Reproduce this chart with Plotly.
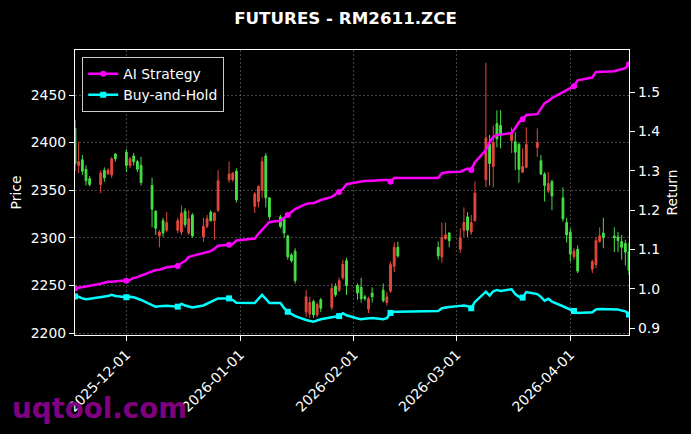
import pandas as pd
import plotly.graph_objects as go

# ---- data ----
start_date = "2025-11-17"
end_date = "2026-04-17"
holidays = ["2026-01-01", "2026-01-02", "2026-02-16", "2026-02-17", "2026-02-18",
            "2026-02-19", "2026-02-20", "2026-02-23", "2026-04-06"]
dates = [d for d in pd.bdate_range(start_date, end_date) if d.strftime("%Y-%m-%d") not in holidays]

open_ = [2415, 2376, 2382, 2372, 2362, 2356, 2371, 2367, 2366, 2388,
         2390, 2376, 2386, 2380, 2376, 2355, 2328, 2302, 2318, 2308,
         2308, 2306, 2328, 2305, 2324, 2301, 2312, 2327, 2318, 2329,
         2361, 2361, 2370, 2333, 2338, 2350, 2386, 2342, 2322, 2320,
         2302, 2282, 2286, 2222, 2220, 2233, 2219, 2235, 2227, 2249,
         2245, 2258, 2276, 2250, 2248, 2238, 2225, 2242, 2245, 2232,
         2244, 2270, 2290, 2290, 2280, 2299, 2305, 2288, 2308, 2322,
         2306, 2318, 2361, 2398, 2375, 2420, 2418, 2402, 2401, 2398,
         2369, 2374, 2395, 2381, 2367, 2349, 2359, 2342, 2316, 2306,
         2280, 2288, 2267, 2272, 2296, 2305, 2302, 2301, 2296, 2294, 2285]
high = [2424, 2401, 2387, 2376, 2365, 2371, 2374, 2373, 2385, 2389,
        2393, 2385, 2389, 2382, 2385, 2363, 2329, 2308, 2321, 2327,
        2321, 2334, 2331, 2329, 2326, 2321, 2324, 2329, 2327, 2371,
        2380, 2369, 2373, 2348, 2355, 2385, 2389, 2342, 2324, 2322,
        2303, 2284, 2289, 2245, 2238, 2235, 2232, 2237, 2252, 2252,
        2258, 2277, 2279, 2252, 2258, 2240, 2238, 2248, 2252, 2243,
        2275, 2295, 2296, 2296, 2316, 2316, 2306, 2310, 2332, 2327,
        2324, 2359, 2484, 2408, 2418, 2434, 2434, 2416, 2411, 2400,
        2394, 2416, 2415, 2387, 2369, 2369, 2361, 2353, 2321, 2310,
        2289, 2292, 2277, 2301, 2311, 2321, 2311, 2306, 2303, 2298, 2295]
low = [2370, 2368, 2366, 2355, 2354, 2347, 2359, 2366, 2363, 2380,
       2369, 2373, 2376, 2369, 2355, 2311, 2303, 2290, 2301, 2306,
       2305, 2303, 2311, 2303, 2300, 2296, 2310, 2317, 2298, 2327,
       2358, 2359, 2337, 2326, 2332, 2342, 2332, 2319, 2310, 2300,
       2277, 2274, 2252, 2217, 2216, 2216, 2217, 2222, 2224, 2238,
       2243, 2256, 2240, 2235, 2232, 2234, 2221, 2232, 2232, 2229,
       2242, 2264, 2279, 2277, 2274, 2298, 2290, 2284, 2301, 2301,
       2303, 2317, 2353, 2355, 2353, 2395, 2394, 2389, 2371, 2358,
       2368, 2373, 2385, 2366, 2338, 2347, 2329, 2317, 2295, 2275,
       2277, 2263, 2263, 2268, 2295, 2289, 2285, 2285, 2277, 2271, 2261]
close = [2378, 2380, 2370, 2360, 2356, 2368, 2363, 2371, 2383, 2383,
         2376, 2383, 2380, 2372, 2358, 2330, 2310, 2306, 2305, 2316,
         2318, 2326, 2314, 2320, 2302, 2312, 2320, 2318, 2326, 2360,
         2367, 2368, 2340, 2346, 2354, 2380, 2342, 2322, 2312, 2305,
         2280, 2276, 2255, 2238, 2232, 2219, 2230, 2226, 2247, 2240,
         2255, 2272, 2250, 2242, 2236, 2236, 2236, 2238, 2234, 2238,
         2272, 2290, 2281, 2281, 2300, 2303, 2297, 2300, 2316, 2308,
         2316, 2347, 2405, 2378, 2400, 2404, 2407, 2410, 2390, 2372,
         2375, 2398, 2400, 2367, 2355, 2357, 2344, 2320, 2303, 2283,
         2286, 2265, 2275, 2297, 2302, 2300, 2300, 2297, 2290, 2285, 2266]

ai_strategy = [1.001, 1.003, 1.005, 1.006, 1.008, 1.013, 1.015, 1.018, 1.018, 1.019,
               1.021, 1.023, 1.028, 1.030, 1.034, 1.046, 1.048, 1.049, 1.053, 1.055,
               1.058, 1.066, 1.071, 1.081, 1.084, 1.091, 1.094, 1.096, 1.102, 1.110,
               1.112, 1.114, 1.123, 1.128, 1.140, 1.150, 1.160, 1.170, 1.173, 1.180,
               1.188, 1.195, 1.203, 1.216, 1.218, 1.218, 1.222, 1.226, 1.234, 1.240,
               1.246, 1.254, 1.266, 1.272, 1.273, 1.274, 1.274, 1.275, 1.277, 1.277,
               1.272, 1.282, 1.282, 1.282, 1.294, 1.296, 1.297, 1.298, 1.302, 1.306,
               1.302, 1.322, 1.353, 1.373, 1.386, 1.391, 1.392, 1.396, 1.409, 1.424,
               1.431, 1.442, 1.444, 1.459, 1.472, 1.477, 1.485, 1.500, 1.505, 1.510,
               1.515, 1.530, 1.537, 1.551, 1.552, 1.552, 1.553, 1.556, 1.558, 1.561, 1.571]
buy_hold = [0.981, 0.980, 0.976, 0.974, 0.975, 0.979, 0.981, 0.982, 0.985, 0.982,
            0.979, 0.980, 0.979, 0.976, 0.972, 0.959, 0.955, 0.956, 0.957, 0.957,
            0.955, 0.962, 0.958, 0.956, 0.953, 0.958, 0.962, 0.967, 0.972, 0.976,
            0.976, 0.972, 0.965, 0.964, 0.975, 0.985, 0.975, 0.964, 0.964, 0.951,
            0.942, 0.937, 0.931, 0.921, 0.919, 0.917, 0.920, 0.923, 0.928, 0.929,
            0.931, 0.938, 0.933, 0.925, 0.923, 0.924, 0.925, 0.926, 0.923, 0.926,
            0.939, 0.942, 0.942, 0.944, 0.951, 0.953, 0.954, 0.957, 0.958, 0.956,
            0.951, 0.967, 0.993, 0.983, 0.994, 0.997, 0.995, 0.999, 0.987, 0.980,
            0.978, 0.992, 0.987, 0.980, 0.970, 0.975, 0.968, 0.956, 0.952, 0.948,
            0.944, 0.939, 0.941, 0.948, 0.949, 0.949, 0.949, 0.948, 0.945, 0.943, 0.935]

month_ticks = ["2025-12-01", "2026-01-01", "2026-02-01", "2026-03-01", "2026-04-01"]
price_ticks = [2200, 2250, 2300, 2350, 2400, 2450]
return_ticks = [0.9, 1.0, 1.1, 1.2, 1.3, 1.4, 1.5]
mark_every = 10

FONT = "DejaVu Sans"
RED = "#e5483c"
GREEN = "#46e046"
MAGENTA = "#ff00ff"
CYAN = "#00ffff"

fig = go.Figure()
fig.add_trace(go.Candlestick(
    x=dates, open=open_, high=high, low=low, close=close,
    increasing=dict(line=dict(color=RED, width=1), fillcolor=RED),
    decreasing=dict(line=dict(color=GREEN, width=1), fillcolor=GREEN),
    whiskerwidth=0, showlegend=False, yaxis="y", hoverinfo="skip"))

for name, vals, color, sym in [("AI Strategy", ai_strategy, MAGENTA, "circle"),
                               ("Buy-and-Hold", buy_hold, CYAN, "square")]:
    fig.add_trace(go.Scatter(x=dates, y=vals, mode="lines", yaxis="y2",
                             line=dict(color=color, width=2.5), showlegend=False,
                             legendgroup=name))
    fig.add_trace(go.Scatter(x=dates[::mark_every], y=vals[::mark_every], mode="markers",
                             yaxis="y2", marker=dict(color=color, size=6, symbol=sym),
                             showlegend=False, legendgroup=name))
    fig.add_trace(go.Scatter(x=[None], y=[None], mode="lines+markers", yaxis="y2", name=name,
                             line=dict(color=color, width=2.5),
                             marker=dict(color=color, size=6, symbol=sym), legendgroup=name))

grid = dict(showgrid=True, gridcolor="rgba(150,150,150,0.45)", gridwidth=0.8, griddash="2px,2px")
axis_common = dict(showline=True, linecolor="white", linewidth=1.2, mirror=True,
                   ticks="outside", ticklen=5, tickcolor="white",
                   tickfont=dict(family=FONT, size=13.9, color="white"), zeroline=False)

fig.update_layout(
    width=691, height=434,
    paper_bgcolor="black", plot_bgcolor="black",
    margin=dict(l=75, r=62, t=50, b=99),
    font=dict(family=FONT, color="white", size=13.9),
    title=dict(text="<b>FUTURES - RM2611.ZCE</b>", x=0.5, xanchor="center",
               y=1 - 18 / 434, yanchor="middle", font=dict(family=FONT, size=16.7, color="white")),
    xaxis=dict(type="date", range=[start_date, end_date], tickvals=month_ticks,
               ticktext=month_ticks, tickangle=-45, rangeslider=dict(visible=False),
               **grid, **axis_common),
    yaxis=dict(range=[2197.9, 2497.3], tickvals=price_ticks,
               title=dict(text="Price", font=dict(family=FONT, size=13.9, color="white"), standoff=5),
               **grid, **axis_common),
    yaxis2=dict(range=[0.883, 1.607], tickvals=return_ticks, tickformat=".1f",
                overlaying="y", side="right", showgrid=False,
                title=dict(text="Return", font=dict(family=FONT, size=13.9, color="white"), standoff=8),
                **axis_common),
    legend=dict(x=0.013, y=0.975, xanchor="left", yanchor="top",
                bgcolor="rgba(0,0,0,0.85)", bordercolor="#cccccc", borderwidth=1,
                font=dict(family=FONT, size=13.9, color="white"), tracegroupgap=0),
    annotations=[dict(text="<b>uqtool.com</b>", xref="paper", yref="paper",
                      x=-75 / 554, y=-(408 - 335) / 285, xanchor="left", yanchor="middle",
                      showarrow=False, font=dict(family=FONT, size=27.7, color="#800080"),
                      xshift=10)],
)

fig.write_html("out.html", config={"displayModeBar": False},
               post_script="document.body.style.margin='0';document.body.style.padding='0';")
